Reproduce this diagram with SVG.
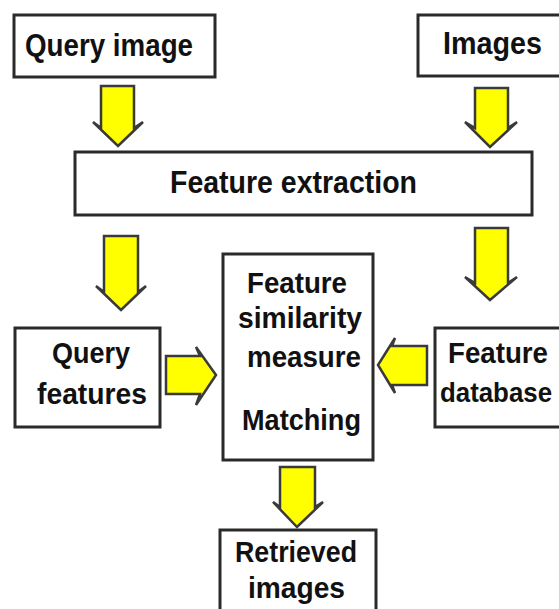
<svg xmlns="http://www.w3.org/2000/svg" width="559" height="609" viewBox="0 0 559 609">
  <style>
    .box { fill: #ffffff; stroke: #2a2a2a; stroke-width: 3; }
    .arrow { fill: #ffff00; stroke: #3a3a3a; stroke-width: 2.5; stroke-linejoin: miter; }
    .lbl { font-family: "Liberation Sans", Arial, sans-serif; font-weight: bold; font-size: 30px; fill: #111111; }
    .big { font-size: 32px; }
  </style>
  <rect width="559" height="609" fill="#ffffff"/>
  <g id="connectors">
    <polygon class="arrow" points="101,86 134,86 134,128 143,122 118,146 93,122 101,128"/>
    <polygon class="arrow" points="475,88 508,88 508,128 517,122 490,147 465,122 475,128"/>
    <polygon class="arrow" points="104,236 138,236 138,292 146,286 121,310 96,286 104,292"/>
    <polygon class="arrow" points="475,228 508,228 508,283 517,277 490,300 465,277 475,283"/>
    <polygon class="arrow" points="280,467 315,467 315,507 323,502 297,527 273,502 280,507"/>
    <polygon class="arrow" points="166,356 200,356 196,347 216,375 196,405 200,394 166,394"/>
    <polygon class="arrow" points="427,346 392,346 395,338 378,365 395,393 392,385 427,385"/>
  </g>
  <g id="query-image">
    <rect class="box" x="14" y="15" width="201" height="62"/>
    <text class="lbl big" x="25" y="56" textLength="168" lengthAdjust="spacingAndGlyphs">Query image</text>
  </g>
  <g id="images">
    <rect class="box" x="418" y="15" width="145" height="61"/>
    <text class="lbl big" x="443" y="54" textLength="99" lengthAdjust="spacingAndGlyphs">Images</text>
  </g>
  <g id="feature-extraction">
    <rect class="box" x="75" y="152" width="457" height="63"/>
    <text class="lbl big" x="170" y="193" textLength="247" lengthAdjust="spacingAndGlyphs">Feature extraction</text>
  </g>
  <g id="query-features">
    <rect class="box" x="15" y="328" width="145" height="99"/>
    <text class="lbl" x="52" y="363" textLength="78" lengthAdjust="spacingAndGlyphs">Query</text>
    <text class="lbl" x="37" y="404" textLength="110" lengthAdjust="spacingAndGlyphs">features</text>
  </g>
  <g id="matching">
    <rect class="box" x="223" y="254" width="150" height="206"/>
    <text class="lbl" x="247" y="293" textLength="100" lengthAdjust="spacingAndGlyphs">Feature</text>
    <text class="lbl" x="238" y="328" textLength="124" lengthAdjust="spacingAndGlyphs">similarity</text>
    <text class="lbl" x="247" y="367" textLength="114" lengthAdjust="spacingAndGlyphs">measure</text>
    <text class="lbl" x="242" y="430" textLength="119" lengthAdjust="spacingAndGlyphs">Matching</text>
  </g>
  <g id="feature-database">
    <rect class="box" x="435" y="328" width="130" height="99"/>
    <text class="lbl" x="448" y="363" textLength="100" lengthAdjust="spacingAndGlyphs">Feature</text>
    <text class="lbl" x="440" y="402" font-size="27" style="font-size:27px" textLength="112" lengthAdjust="spacingAndGlyphs">database</text>
  </g>
  <g id="retrieved-images">
    <rect class="box" x="220" y="530" width="156" height="90"/>
    <text class="lbl" x="235" y="562" textLength="122" lengthAdjust="spacingAndGlyphs">Retrieved</text>
    <text class="lbl" x="248" y="598" textLength="97" lengthAdjust="spacingAndGlyphs">images</text>
  </g>
</svg>
